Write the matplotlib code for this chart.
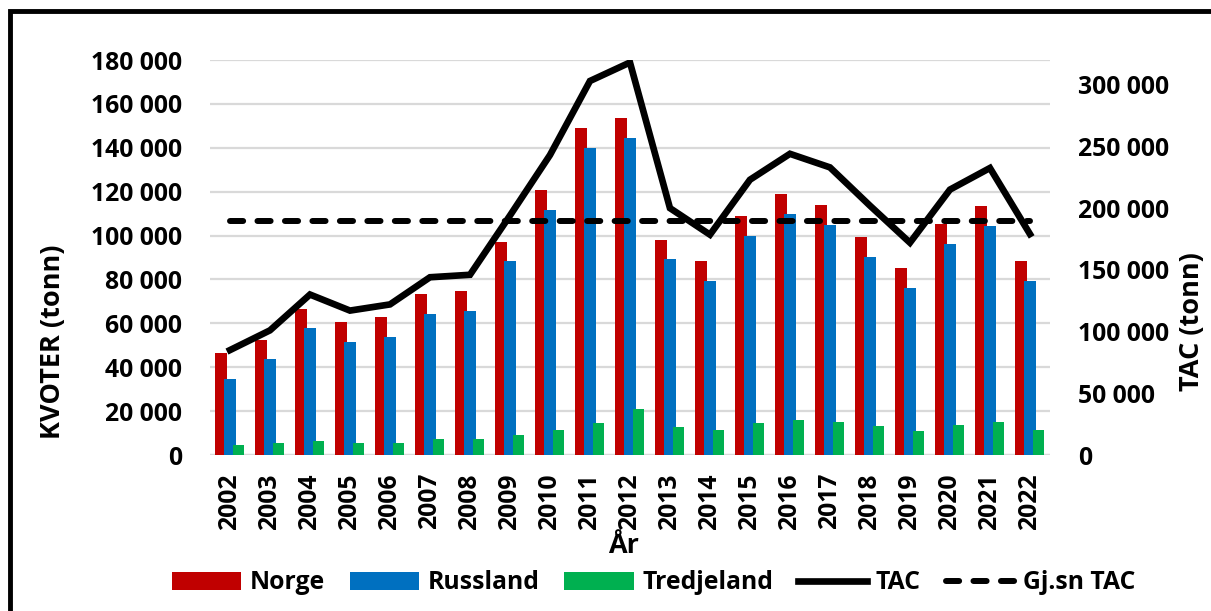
import matplotlib
matplotlib.use("Agg")
import matplotlib.pyplot as plt
import numpy as np
from matplotlib.patches import Rectangle

plt.rcParams['font.family'] = ['Open Sans', 'DejaVu Sans']
plt.rcParams['font.weight'] = 'bold'

years = [str(y) for y in range(2002, 2023)]
norge = [46300, 52400, 66700, 60500, 62900, 73400, 74600, 97200, 120600, 148900, 153400,
         98200, 88300, 109100, 118900, 113800, 99300, 85200, 105400, 113500, 88300]
russland = [34500, 43600, 57700, 51500, 53800, 64400, 65600, 88300, 111500, 139900, 144300,
            89200, 79300, 99900, 109800, 104700, 90400, 76200, 96300, 104500, 79300]
tredjeland = [4600, 5300, 6200, 5500, 5500, 7100, 7100, 9000, 11400, 14700, 20800,
              12800, 11400, 14400, 15800, 15000, 13200, 11100, 13800, 15000, 11400]
tac = [85000, 101000, 130000, 117000, 122000, 144000, 146000, 194000, 243000, 303000, 318000,
       200000, 178500, 223000, 244000, 233000, 202000, 172000, 215000, 232500, 179000]
gjsn_tac = [np.mean(tac)] * len(tac)

left_ticks = np.arange(0, 180001, 20000)
right_ticks = np.arange(0, 300001, 50000)

def fmt(v):
    return f"{int(v):,}".replace(",", " ")

fs = 17.8
fs_title = 19.5

fig = plt.figure(figsize=(12.11, 6.11), dpi=100)
ax = fig.add_axes([0.1734, 0.2553, 0.6936, 0.6465])
ax2 = ax.twinx()

x = np.arange(len(years))
w = 0.28
ax.bar(x - 0.225, norge, w, color="#C00000", label="Norge", zorder=2)
ax.bar(x, russland, w, color="#0070C0", label="Russland", zorder=3)
ax.bar(x + 0.22, tredjeland, w, color="#00B050", label="Tredjeland", zorder=4)

ax2.plot(x, tac, color="black", lw=4.8, solid_joinstyle="miter", label="TAC")
ax2.plot(x, gjsn_tac, color="black", lw=4.3, linestyle=(0, (2.2, 2.4)),
         dash_capstyle="round", label="Gj.sn TAC")

ax.set_xlim(-0.5, len(years) - 0.5)
ax.set_ylim(0, 180000)
ax2.set_ylim(0, 320000)
ax.set_yticks(left_ticks)
ax.set_yticklabels([fmt(v) for v in left_ticks])
ax2.set_yticks(right_ticks)
ax2.set_yticklabels([fmt(v) for v in right_ticks])
ax.set_xticks(x)
ax.set_xticklabels(years, rotation=90)

ax.yaxis.grid(True, color="#D9D9D9", lw=1.6, zorder=0)
ax.set_axisbelow(True)
for a in (ax, ax2):
    for s in a.spines.values():
        s.set_visible(False)
ax.tick_params(axis="both", length=0, labelsize=fs)
ax.tick_params(axis="y", pad=20)
ax.tick_params(axis="x", pad=13)
ax2.tick_params(axis="y", length=0, labelsize=fs, pad=20)
ax.axhline(0, color="#D9D9D9", lw=1.6, zorder=1)

fig.text(0.044, 0.44, "KVOTER (tonn)", rotation=90, ha="center", va="center", fontsize=fs_title)
fig.text(0.984, 0.473, "TAC (tonn)", rotation=90, ha="center", va="center", fontsize=fs_title)
fig.text(0.515, 0.106, "År", ha="center", va="center", fontsize=fs_title)

h1, l1 = ax.get_legend_handles_labels()
h2, l2 = ax2.get_legend_handles_labels()
fig.legend(h1 + h2, l1 + l2, loc="center", bbox_to_anchor=(0.54, 0.046), ncol=5,
           frameon=False, fontsize=fs, handlelength=2.8, handleheight=0.75,
           handletextpad=0.35, columnspacing=1.0)

fig.patches.append(Rectangle((10 / 1211, -0.1), 1.2, 1 - 11 / 611 + 0.1,
                             transform=fig.transFigure, fill=False,
                             edgecolor="black", lw=3.5))

plt.savefig("out.png", dpi=100)
